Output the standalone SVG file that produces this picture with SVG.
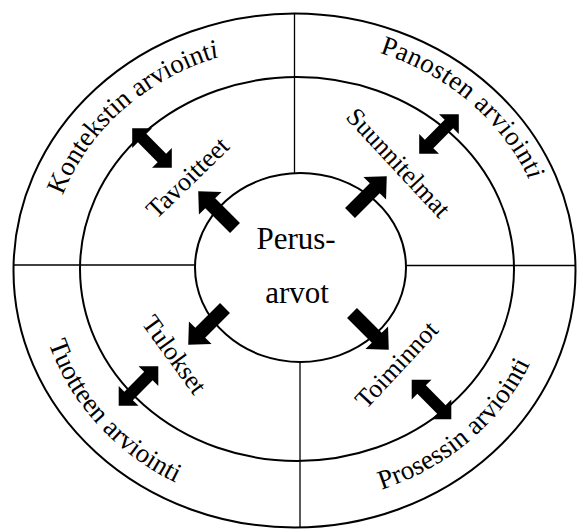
<svg xmlns="http://www.w3.org/2000/svg" xmlns:xlink="http://www.w3.org/1999/xlink" width="577" height="530" viewBox="0 0 577 530">
<style>
.ring{fill:none;stroke:#000;stroke-width:2}
.div{stroke:#000;stroke-width:1.3;fill:none}
.t{font-family:"Liberation Serif","Times New Roman",serif;fill:#000}
.outer{font-size:27px}
.inner{font-size:26px}
.core{font-size:31px}
.arr{fill:#000}
</style>
<defs>
<path id="sa" d="M0,-7 H35 V-16 L52,0 L35,16 V7 H0 Z"/>
<path id="da" d="M-28,0 L-14,-14 V-6 H14 V-14 L28,0 L14,14 V6 H-14 V14 Z"/>
<path id="arcK" d="M49.94,249.56 A247,223 0 0 1 274.47,46.85"/>
<path id="arcP" d="M313.65,40.55 A253,229 0 0 1 547.61,245.06"/>
<path id="arcPr" d="M311.63,502.56 A256,234 0 0 0 550.35,295.49"/>
<path id="arcT" d="M36.01,267.32 A260,241 0 0 0 249.07,506.05"/>
</defs>
<rect width="577" height="530" fill="#fff"/>
<g id="rings">
<ellipse class="ring" cx="294.5" cy="270.5" rx="281" ry="257"/>
<ellipse class="ring" cx="297" cy="269" rx="217" ry="192"/>
<line class="div" x1="294.5" y1="13" x2="294.5" y2="173"/>
<line class="div" x1="300" y1="362" x2="300" y2="528"/>
<line class="div" x1="13" y1="265" x2="195" y2="265"/>
<line class="div" x1="406" y1="265.5" x2="576" y2="265.5"/>
</g>
<g id="perusarvot">
<ellipse class="ring" cx="300.5" cy="267.5" rx="105.5" ry="94.5"/>
<text class="t core" x="296" y="249" text-anchor="middle">Perus-</text>
<text class="t core" x="297" y="303" text-anchor="middle">arvot</text>
</g>
<g id="kontekstin">
<text class="t outer" text-anchor="middle"><textPath xlink:href="#arcK" startOffset="50%">Kontekstin arvioint<tspan font-style="italic">i</tspan></textPath></text>
</g>
<g id="panosten">
<text class="t outer" text-anchor="middle" letter-spacing="0.4"><textPath xlink:href="#arcP" startOffset="50%">Panosten arvioint<tspan font-style="italic">i</tspan></textPath></text>
</g>
<g id="tuotteen">
<text class="t outer" text-anchor="middle"><textPath xlink:href="#arcT" startOffset="50%">Tuotteen arviointi</textPath></text>
</g>
<g id="prosessin">
<text class="t outer" text-anchor="middle"><textPath xlink:href="#arcPr" startOffset="50%">Prosessin arviointi</textPath></text>
</g>
<g id="tavoitteet">
<text class="t inner" text-anchor="middle" transform="translate(188,178) rotate(-44)" y="8">Tavoitteet</text>
</g>
<g id="suunnitelmat">
<text class="t inner" text-anchor="middle" transform="translate(398,163) rotate(47)" y="8">Suunnitelmat</text>
</g>
<g id="tulokset">
<text class="t inner" text-anchor="middle" transform="translate(174,355) rotate(54)" y="8">Tulokset</text>
</g>
<g id="toiminnot">
<text class="t inner" text-anchor="middle" transform="translate(397,365) rotate(-47)" y="8">Toiminnot</text>
</g>
<g id="connectors" class="arr">
<use xlink:href="#sa" transform="translate(235,228) rotate(225)"/>
<use xlink:href="#sa" transform="translate(350,213) rotate(-45)"/>
<use xlink:href="#sa" transform="translate(225,308) rotate(135)"/>
<use xlink:href="#sa" transform="translate(352,313) rotate(45)"/>
<use xlink:href="#da" transform="translate(152,148) rotate(45)"/>
<use xlink:href="#da" transform="translate(439,134) rotate(-45)"/>
<use xlink:href="#da" transform="translate(138.5,386) rotate(-45)"/>
<use xlink:href="#da" transform="translate(431.5,399.5) rotate(45)"/>
</g>
</svg>
